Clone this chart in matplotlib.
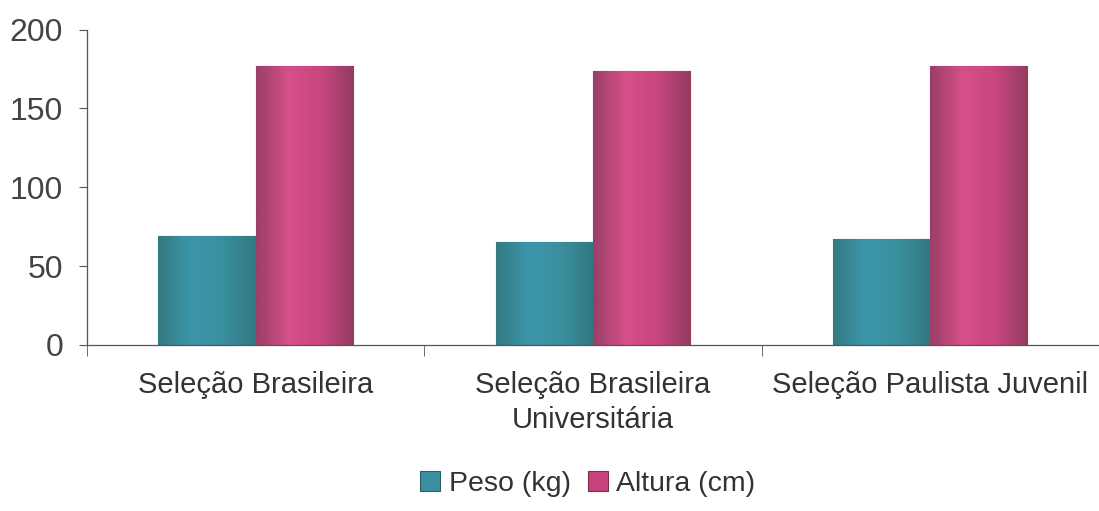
# Peso e altura médios por seleção
import numpy as np
import matplotlib.pyplot as plt
from matplotlib.colors import LinearSegmentedColormap

plt.rcParams['font.family'] = ['Liberation Sans', 'DejaVu Sans']

categorias = ["Seleção Brasileira", "Seleção Brasileira\nUniversitária", "Seleção Paulista Juvenil"]
peso = [69, 65, 67]
altura = [177, 174, 177]
series = ["Peso (kg)", "Altura (cm)"]
yticks = [0, 50, 100, 150, 200]

fig = plt.figure(figsize=(10.99, 5.11), dpi=100)
ax = fig.add_axes([0.079, 0.325, 0.921, 0.617])

x = np.arange(len(categorias))
w = 0.288
b1 = ax.bar(x - w / 2, peso, w, color='#3a8fa0', edgecolor='#2f5f66', linewidth=0.8, label=series[0])
b2 = ax.bar(x + w / 2, altura, w, color='#c8437e', edgecolor='#7a3050', linewidth=0.8, label=series[1])

# cylinder-like shading inside each bar
cm_peso = LinearSegmentedColormap.from_list('p', ['#347a80', '#3c96aa', '#3a8f9e', '#337880'])
cm_alt = LinearSegmentedColormap.from_list('a', ['#9a3f66', '#d6508a', '#c9467f', '#933c60'])
grad = np.linspace(0, 1, 64).reshape(1, -1)
for bars, cm in [(b1, cm_peso), (b2, cm_alt)]:
    for r in bars:
        x0, y0 = r.get_x(), r.get_y()
        im = ax.imshow(grad, cmap=cm, aspect='auto', extent=(x0, x0 + r.get_width(), y0, y0 + r.get_height()),
                       zorder=r.get_zorder() + 0.1)
        im.set_clip_path(r)

ax.set_xlim(-0.5, 2.5)
ax.set_ylim(0, 200)
ax.set_yticks(yticks)
ax.set_xticks(x)
ax.set_xticklabels(categorias, fontsize=21, color='#333333', linespacing=1.3)
ax.set_xticks([-0.5, 0.5, 1.5, 2.5], minor=True)
ax.tick_params(axis='x', which='major', length=0, pad=19)
ax.tick_params(axis='x', which='minor', length=8, color='#555555')
ax.tick_params(axis='y', labelsize=23, labelcolor='#444444', length=6, color='#555555', pad=11)

for s in ['top', 'right']:
    ax.spines[s].set_visible(False)
for s in ['left', 'bottom']:
    ax.spines[s].set_color('#555555')
    ax.spines[s].set_linewidth(0.9)
    ax.spines[s].set_zorder(5)

ax.legend(loc='center', bbox_to_anchor=(0.495, -0.44), ncol=2, frameon=False,
          fontsize=20.5, handlelength=0.7, handleheight=0.7, handletextpad=0.3, columnspacing=0.6,
          labelcolor='#333333')

fig.savefig("out.png", dpi=100)
